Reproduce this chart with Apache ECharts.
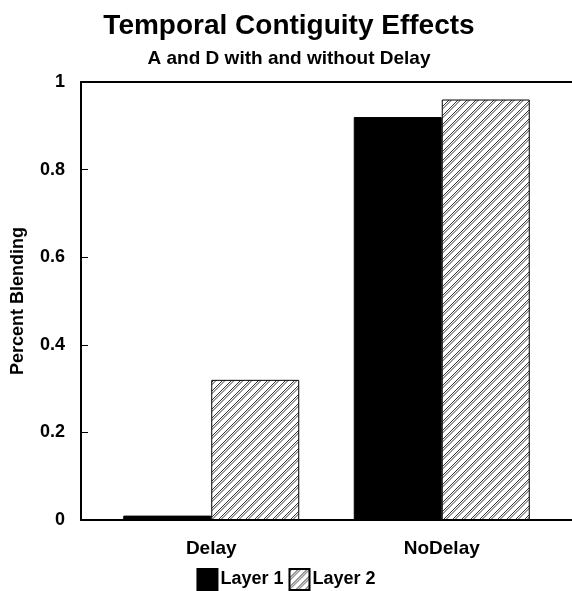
<!DOCTYPE html>
<html>
<head>
<meta charset="utf-8">
<script src="https://cdn.jsdelivr.net/npm/echarts@6/dist/echarts.min.js"></script>
<style>
html,body{margin:0;padding:0;background:#fff;}
#chart{width:572px;height:591px;}
</style>
</head>
<body>
<div id="chart"></div>
<script>
const categories = ['Delay', 'NoDelay'];
const layer1 = [0.01, 0.92];
const layer2 = [0.32, 0.96];
const seriesNames = ['Layer 1', 'Layer 2'];

const FONT = 'Liberation Sans, Arial, Helvetica, sans-serif';

function makeHatch() {
  const s = 9;
  const c = document.createElement('canvas');
  c.width = s; c.height = s;
  const g = c.getContext('2d');
  g.fillStyle = '#fff';
  g.fillRect(0, 0, s, s);
  g.strokeStyle = '#000';
  g.lineWidth = 0.8;
  [0, 2.5].forEach(o => {
    for (let k = -1; k <= 1; k++) {
      g.beginPath();
      g.moveTo(k * s + o, s);
      g.lineTo(k * s + o + s, 0);
      g.stroke();
    }
  });
  return c;
}
const hatch = { image: makeHatch(), repeat: 'repeat' };

const chart = echarts.init(document.getElementById('chart'), null, { renderer: 'canvas' });
chart.setOption({
  backgroundColor: '#fff',
  animation: false,
  textStyle: { fontFamily: FONT, color: '#000' },
  title: {
    text: 'Temporal Contiguity Effects',
    subtext: 'A and D with and without Delay',
    left: 284,
    textAlign: 'center',
    top: 7,
    itemGap: 9,
    textStyle: { fontFamily: FONT, fontSize: 28, fontWeight: 'bold', color: '#000' },
    subtextStyle: { fontFamily: FONT, fontSize: 19, fontWeight: 'bold', color: '#000' }
  },
  legend: {
    data: seriesNames,
    icon: 'rect',
    left: 'center',
    top: 563,
    itemWidth: 20,
    itemHeight: 21,
    itemGap: 5,
    textStyle: { fontFamily: FONT, fontSize: 18, fontWeight: 'bold', color: '#000', padding: [6, 0, 0, -2] }
  },
  grid: { left: 81, top: 82, width: 497, bottom: 71, containLabel: false },
  xAxis: [{
    type: 'value',
    min: -0.565,
    max: 1.565,
    position: 'bottom',
    splitLine: { show: false },
    axisLine: { show: true, onZero: false, lineStyle: { color: '#000', width: 2 } },
    axisTick: { show: false },
    axisLabel: {
      customValues: categories.map((c, i) => i),
      formatter: v => categories[Math.round(v)] || '',
      fontFamily: FONT, fontSize: 19, fontWeight: 'bold', color: '#000', margin: 19
    }
  }, {
    type: 'value',
    min: -0.565,
    max: 1.565,
    position: 'top',
    splitLine: { show: false },
    axisLine: { show: true, onZero: false, lineStyle: { color: '#000', width: 2 } },
    axisTick: { show: false },
    axisLabel: { show: false }
  }],
  yAxis: {
    type: 'value',
    min: 0,
    max: 1,
    interval: 0.2,
    name: 'Percent Blending',
    nameLocation: 'middle',
    nameGap: 54,
    nameTextStyle: { fontFamily: FONT, fontSize: 18, fontWeight: 'bold', color: '#000' },
    splitLine: { show: false },
    axisLine: { show: true, onZero: false, lineStyle: { color: '#000', width: 2 } },
    axisTick: { show: true, inside: true, length: 7, lineStyle: { color: '#000', width: 1 } },
    axisLabel: {
      fontFamily: FONT, fontSize: 18, fontWeight: 'bold', color: '#000', margin: 16,
      formatter: v => String(Math.round(v * 10) / 10)
    }
  },
  series: [{
    name: seriesNames[0],
    type: 'bar',
    xAxisIndex: 0,
    barWidth: 88,
    barGap: '0%',
    data: layer1.map((v, i) => [i, v]),
    itemStyle: { color: '#000', borderColor: '#000', borderWidth: 1 }
  }, {
    name: seriesNames[1],
    type: 'bar',
    xAxisIndex: 0,
    barWidth: 88,
    barGap: '0%',
    data: layer2.map((v, i) => [i, v]),
    itemStyle: { color: hatch, borderColor: '#000', borderWidth: 1 }
  }]
});
</script>
</body>
</html>
